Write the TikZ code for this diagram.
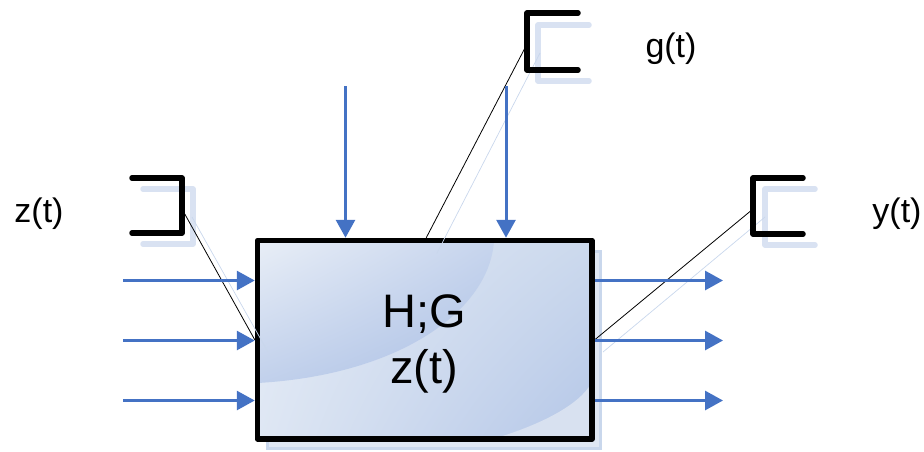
\documentclass[tikz,border=0pt]{standalone}
\usepackage{fontspec}
\setmainfont{Liberation Sans}
\usetikzlibrary{arrows.meta,shadings}
\definecolor{arrowblue}{HTML}{4472C4}
\definecolor{shadowblue}{HTML}{D9E2F2}
\definecolor{shadowedge}{HTML}{C9D7EC}
\definecolor{shadowfill}{HTML}{DFE7F3}
\definecolor{cornerlight}{HTML}{D8E1F0}
\begin{document}
\begin{tikzpicture}[x=1pt,y=-1pt,
  flow/.style={draw=arrowblue, line width=3pt, -{Triangle[length=18pt,width=19pt]}},
  bracket/.style={draw=black, line width=5.5pt, line cap=round, line join=round},
  bshadow/.style={draw=shadowblue, line width=5.5pt, line cap=round, line join=round},
  leader/.style={draw=black, line width=0.8pt},
  lshadow/.style={draw=shadowedge, line width=0.7pt},
  lbl/.style={font=\fontsize{34}{38}\selectfont, anchor=base, inner sep=0pt},
  maintext/.style={font=\fontsize{47}{52}\selectfont, anchor=base, inner sep=0pt},
  blockbox/.style={draw=black, line width=5.5pt, line join=round, minimum width=334.5pt, minimum height=198.5pt, inner sep=0pt}
]
\useasboundingbox (0,0) rectangle (924,451);

% shadow of the block
\draw[draw=shadowedge, fill=shadowfill, line width=3pt] (267.5,251.5) rectangle (600.5,448.5);

% block fill
\begin{scope}
  \clip (257.5,240.5) rectangle (592,439);
  \shade[upper left=white!20!shadowfill, upper right=white!5!shadowedge, lower left=white!40!shadowedge, lower right=arrowblue!40]
    (257.5,240.5) rectangle (592,439);
  \shade[upper left=white!30!shadowfill, upper right=arrowblue!30, lower left=arrowblue!33, lower right=arrowblue!45]
    (257.5,240.5) -- (494,240.5) .. controls (490,310) and (400,375) .. (257.5,383) -- cycle;
  \fill[cornerlight]
    (493,439) .. controls (540,425) and (580,405) .. (592,382) -- (592,439) -- cycle;
\end{scope}

% the block itself
\node[blockbox] (box) at (424.75,339.75) {};

% texts in the block
\node[maintext] (t1) at (424,327) {H;G};
\node[maintext] (t2) at (424,383) {z(t)};

% labels
\node[lbl] (lz) at (39,222) {z(t)};
\node[lbl] (lg) at (671,57) {g(t)};
\node[lbl] (ly) at (897,222) {y(t)};

% brackets: shadows
\draw[bshadow] (143,189) -- (193,189) -- (193,244) -- (143,244);
\draw[bshadow] (589,25) -- (538,25) -- (538,81) -- (589,81);
\draw[bshadow] (815,189) -- (765,189) -- (765,245) -- (815,245);

% leader shadows
\coordinate (zs) at (192,217);
\coordinate (zse) at (268,352);
\coordinate (gs) at (540,53);
\coordinate (gse) at (437,253);
\coordinate (ys) at (765,217);
\coordinate (yse) at (603,352);
\draw[lshadow] (zs) -- (zse);
\draw[lshadow] (gs) -- (gse);
\draw[lshadow] (ys) -- (yse);

% brackets
\draw[bracket] (132,178) -- (182,178) -- (182,233) -- (132,233);
\draw[bracket] (578,13) -- (527,13) -- (527,70) -- (578,70);
\draw[bracket] (803,178) -- (753,178) -- (753,234) -- (803,234);

% leaders
\coordinate (zb) at (182,209);
\coordinate (gb) at (526,46);
\coordinate (yb) at (753,209);
\draw[leader] (zb) -- (box.west);
\draw[leader] (gb) -- ([xshift=1.5pt]box.north);
\draw[leader] (yb) -- (box.east);

% input arrows
\coordinate (i1) at (123,280.5);
\coordinate (i2) at (123,340.5);
\coordinate (i3) at (123,400.5);
\draw[flow] (i1) -- (i1 -| box.west);
\draw[flow] (i2) -- (i2 -| box.west);
\draw[flow] (i3) -- (i3 -| box.west);

% output arrows
\coordinate (o1) at (723,280.5);
\coordinate (o2) at (723,340.5);
\coordinate (o3) at (723,400.5);
\draw[flow] (o1 -| box.east) -- (o1);
\draw[flow] (o2 -| box.east) -- (o2);
\draw[flow] (o3 -| box.east) -- (o3);

% top arrows
\coordinate (a1) at (345.5,86);
\coordinate (a2) at (506,86);
\draw[flow] (a1) -- (a1 |- box.north);
\draw[flow] (a2) -- (a2 |- box.north);
\end{tikzpicture}
\end{document}
